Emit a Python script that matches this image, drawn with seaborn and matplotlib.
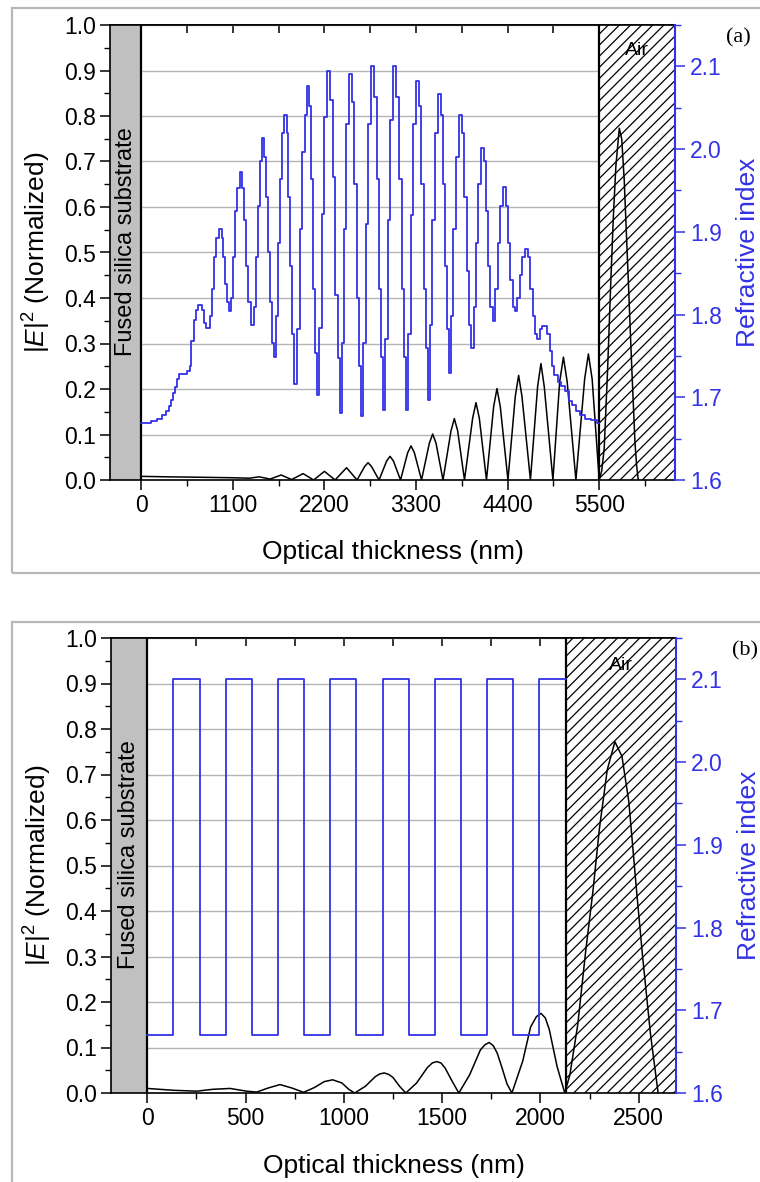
import matplotlib
matplotlib.use("Agg")
import matplotlib.pyplot as plt
import seaborn as sns
from matplotlib.patches import Rectangle
from matplotlib.ticker import MultipleLocator, NullFormatter, FormatStrFormatter

# ---------------- data ----------------
# Panel (a): apodized quantized rugate profile (optical thickness nm, refractive index)
a_prof_x = [0, 120, 192, 252, 300, 336, 360, 384, 408, 432, 456, 552, 582, 600, 630, 660, 684, 726, 756, 780,
            828, 852, 876, 900, 930, 966, 984, 1008, 1032, 1056,
            1080, 1104, 1128, 1152, 1182, 1212, 1236, 1260, 1284, 1314,
            1356, 1380, 1404, 1428, 1446, 1476, 1500, 1524, 1548, 1572,
            1596, 1620, 1644, 1668, 1692, 1710, 1746, 1764, 1788, 1812,
            1836, 1872, 1902, 1932, 1962, 1986, 2010, 2040, 2064, 2088,
            2112, 2136, 2166, 2196, 2232, 2268, 2298, 2328, 2358, 2382,
            2406, 2430, 2460, 2496, 2526, 2556, 2586, 2616, 2640,
            2664, 2694, 2724, 2760, 2796, 2826, 2856, 2880, 2904,
            2928, 2958, 2988, 3024, 3060, 3096, 3126, 3156, 3180,
            3204, 3234, 3264, 3294, 3330, 3360, 3390, 3420, 3444,
            3468, 3492, 3522, 3558, 3594, 3618, 3642, 3666, 3690,
            3720, 3750, 3780, 3816, 3852, 3882, 3912, 3942, 3966,
            3996, 4020, 4050, 4086, 4122, 4146, 4170, 4194, 4224,
            4254, 4284, 4314, 4344, 4380, 4404, 4434, 4464, 4488,
            4518, 4548, 4578, 4608, 4644, 4674, 4704, 4728, 4752,
            4788, 4818, 4878, 4908, 4932, 4956, 5004, 5040, 5088, 5136, 5172, 5220, 5268, 5328, 5400, 5472, 5500]
a_prof_n = [1.669, 1.671, 1.674, 1.678, 1.684, 1.689, 1.697, 1.705, 1.713, 1.722, 1.728, 1.732, 1.738, 1.768, 1.793, 1.806, 1.812, 1.806, 1.790, 1.784,
            1.798, 1.831, 1.870, 1.892, 1.903, 1.892, 1.870, 1.837, 1.815, 1.804,
            1.820, 1.870, 1.925, 1.953, 1.972, 1.953, 1.914, 1.859, 1.815, 1.787,
            1.809, 1.870, 1.931, 1.986, 2.013, 1.991, 1.942, 1.876, 1.815, 1.765,
            1.749, 1.798, 1.887, 1.964, 2.019, 2.041, 2.019, 1.942, 1.859, 1.776,
            1.716, 1.782, 1.903, 1.997, 2.041, 2.076, 2.052, 1.964, 1.831, 1.754,
            1.703, 1.784, 1.922, 2.039, 2.094, 2.059, 1.966, 1.824, 1.748, 1.681,
            1.765, 1.903, 2.030, 2.091, 2.057, 1.958, 1.820, 1.738, 1.677,
            1.765, 1.909, 2.030, 2.100, 2.063, 1.964, 1.831, 1.749, 1.685,
            1.771, 1.914, 2.035, 2.100, 2.063, 1.964, 1.831, 1.749, 1.685,
            1.776, 1.920, 2.030, 2.082, 2.052, 1.958, 1.831, 1.760, 1.697,
            1.787, 1.914, 2.019, 2.067, 2.041, 1.958, 1.859, 1.782, 1.729,
            1.798, 1.903, 1.991, 2.041, 2.019, 1.942, 1.853, 1.787, 1.760,
            1.809, 1.887, 1.958, 2.001, 1.986, 1.925, 1.859, 1.809, 1.792,
            1.831, 1.887, 1.931, 1.954, 1.931, 1.887, 1.842, 1.809, 1.804,
            1.820, 1.848, 1.870, 1.879, 1.870, 1.831, 1.798, 1.776, 1.770,
            1.782, 1.786, 1.776, 1.756, 1.738, 1.727, 1.718, 1.714, 1.707, 1.696, 1.691, 1.684, 1.679, 1.674, 1.672, 1.669, 1.669]

# Panel (a): normalized |E|^2
a_e_x = [0, 300, 720, 1080, 1300, 1416, 1548, 1680, 1806, 1944, 2070, 2200, 2328, 2466, 2592,
         2684, 2724, 2764, 2856, 2948, 2988, 3028, 3114, 3200, 3240, 3280, 3366,
         3460, 3500, 3540, 3624, 3720, 3760, 3800, 3882, 3980, 4020, 4060, 4146,
         4232, 4272, 4312, 4404, 4492, 4532, 4572, 4674, 4760, 4800, 4840, 4944,
         5025, 5070, 5115, 5220, 5325, 5370, 5415, 5500,
         5530, 5560, 5600, 5640, 5670, 5700, 5741, 5770, 5800, 5849, 5890, 5930, 5950, 5969]
a_e_v = [0.008, 0.007, 0.006, 0.005, 0.004, 0.007, 0.002, 0.011, 0.001, 0.014, 0.0, 0.019, 0.0, 0.027, 0.0,
         0.030, 0.038, 0.030, 0.0, 0.042, 0.052, 0.042, 0.0, 0.060, 0.075, 0.060, 0.0,
         0.081, 0.101, 0.081, 0.0, 0.108, 0.135, 0.108, 0.0, 0.136, 0.170, 0.136, 0.0,
         0.161, 0.201, 0.161, 0.0, 0.184, 0.230, 0.184, 0.0, 0.205, 0.256, 0.205, 0.0,
         0.216, 0.270, 0.216, 0.0, 0.222, 0.277, 0.222, 0.0,
         0.02, 0.07, 0.24, 0.44, 0.58, 0.69, 0.773, 0.75, 0.66, 0.44, 0.25, 0.08, 0.03, 0.0]

# Panel (b): quarter-wave stack (layer start positions, refractive index)
b_prof_x = [0, 133, 266, 399, 532, 665, 798, 931, 1064, 1197, 1330, 1463, 1596, 1729, 1862, 1995, 2128]
b_prof_n = [1.67, 2.10, 1.67, 2.10, 1.67, 2.10, 1.67, 2.10, 1.67, 2.10, 1.67, 2.10, 1.67, 2.10, 1.67, 2.10, 2.10]

# Panel (b): normalized |E|^2
b_e_x = [0, 131, 251, 330, 421, 505, 556, 615, 675, 735, 795, 850, 900, 943, 990, 1025, 1055, 1110, 1160, 1183,
         1205, 1228, 1250, 1285, 1315, 1370, 1425, 1450, 1472, 1494, 1515, 1552, 1585, 1640, 1695,
         1718, 1739, 1760, 1780, 1805, 1830, 1855, 1910, 1950, 1980, 2003, 2025, 2045, 2085, 2124,
         2150, 2190, 2230, 2268, 2300, 2340, 2379, 2415, 2450, 2489, 2520, 2560, 2599]
b_e_v = [0.010, 0.006, 0.004, 0.008, 0.010, 0.004, 0.002, 0.011, 0.0185, 0.011, 0.0015, 0.012, 0.025, 0.029, 0.022, 0.008, 0.0, 0.015, 0.036, 0.042,
         0.044, 0.041, 0.034, 0.014, 0.0, 0.022, 0.056, 0.066, 0.069, 0.066, 0.055, 0.025, 0.0, 0.040, 0.095,
         0.106, 0.111, 0.104, 0.088, 0.055, 0.020, 0.0, 0.070, 0.145, 0.168, 0.175, 0.165, 0.140, 0.058, 0.0,
         0.04, 0.15, 0.31, 0.446, 0.58, 0.71, 0.772, 0.74, 0.64, 0.446, 0.30, 0.13, 0.0]

x_label = "Optical thickness (nm)"
y_label = r"$|\mathit{E}|^2$ (Normalized)"
y2_label = "Refractive index"
substrate_label = "Fused silica substrate"
air_label = "Air"

# ---------------- style ----------------
sns.set_theme(style="ticks")
plt.rcParams['font.family'] = ['Liberation Sans', 'DejaVu Sans']
plt.rcParams['mathtext.fontset'] = 'custom'
plt.rcParams['mathtext.rm'] = 'Liberation Sans'
plt.rcParams['mathtext.it'] = 'Liberation Sans:italic'
plt.rcParams['hatch.linewidth'] = 0.9

BLUE = '#3232e6'
W, H = 760, 1182
fig = plt.figure(figsize=(W / 100, H / 100), dpi=100)


def frac_rect(l, t, r, b):
    return [l / W, 1 - b / H, (r - l) / W, (b - t) / H]


def panel(rect, prof_x, prof_n, e_x, e_v, xlim, air_x, xmaj, xmin, air_y, tag, tag_xy):
    ax = fig.add_axes(rect)
    ax2 = ax.twinx()
    ax.set_xlim(*xlim)
    ax.set_ylim(0, 1)
    ax2.set_ylim(1.6, 2.15)

    ax.grid(False)
    ax.yaxis.grid(True, color='#b5b5b5', lw=1.0)
    ax.set_axisbelow(True)

    ax.axvspan(xlim[0], 0, facecolor='#c0c0c0', edgecolor='none', zorder=1)
    ax.axvspan(air_x, xlim[1], facecolor='white', edgecolor='black', hatch='///', lw=0, zorder=1)
    ax.axvline(0, color='black', lw=1.6, zorder=3)
    ax.axvline(air_x, color='black', lw=1.6, zorder=3)

    sns.lineplot(x=e_x, y=e_v, ax=ax, color='black', lw=1.1, estimator=None, sort=False, zorder=4)
    sns.lineplot(x=prof_x, y=prof_n, ax=ax2, color=BLUE, lw=1.3, drawstyle='steps-post',
                 estimator=None, sort=False)

    # ticks
    ax.xaxis.set_major_locator(MultipleLocator(xmaj))
    ax.xaxis.set_minor_locator(MultipleLocator(xmin))
    ax.yaxis.set_major_locator(MultipleLocator(0.1))
    ax.yaxis.set_minor_locator(MultipleLocator(0.05))
    ax.yaxis.set_major_formatter(FormatStrFormatter('%.1f'))
    ax.tick_params(axis='both', which='major', direction='out', length=7, width=1.1,
                   labelsize=16.5, colors='black', pad=3)
    ax.tick_params(axis='both', which='minor', direction='out', length=4, width=1.0, colors='black')
    ax.tick_params(axis='x', which='both', top=False, bottom=True)
    ax.tick_params(axis='y', which='both', left=True, right=False)

    ax2.yaxis.set_major_locator(MultipleLocator(0.1))
    ax2.yaxis.set_minor_locator(MultipleLocator(0.05))
    ax2.yaxis.set_major_formatter(FormatStrFormatter('%.1f'))
    ax2.tick_params(axis='y', which='major', direction='out', length=7, width=1.1,
                    labelsize=16.5, colors=BLUE, pad=4)
    ax2.tick_params(axis='y', which='minor', direction='out', length=4, width=1.0, colors=BLUE)

    sec = ax.secondary_xaxis('top')
    sec.xaxis.set_major_locator(MultipleLocator(xmaj))
    sec.xaxis.set_minor_locator(MultipleLocator(xmin))
    sec.xaxis.set_major_formatter(NullFormatter())
    sec.tick_params(axis='x', which='both', direction='in', length=6, width=1.1, colors='black')
    sec.spines['top'].set_linewidth(1.2)
    sec.spines['top'].set_color('black')

    for s in ['left', 'bottom', 'top']:
        ax.spines[s].set_color('black')
        ax.spines[s].set_linewidth(1.2)
    ax.spines['right'].set_visible(False)
    for s in ['left', 'bottom', 'top']:
        ax2.spines[s].set_visible(False)
    ax2.spines['right'].set_color(BLUE)
    ax2.spines['right'].set_linewidth(1.5)

    ax.set_xlabel(x_label, fontsize=19, labelpad=17, color='black')
    ax.set_ylabel(y_label, fontsize=19, labelpad=8, color='black')
    ax2.set_ylabel(y2_label, fontsize=19, labelpad=10, color=BLUE)

    ax.text(xlim[0] / 2, 0.525, substrate_label, rotation=90, ha='center', va='center',
            fontsize=17, color='black', zorder=5)
    ax.text((air_x + xlim[1]) / 2, air_y, air_label, ha='center', va='center', fontsize=14,
            color='black', zorder=5)
    fig.text(tag_xy[0] / W, 1 - tag_xy[1] / H, tag, family=['Liberation Serif', 'DejaVu Serif'],
             fontsize=16, ha='left', va='center', color='black')
    return ax, ax2


# panel frames
fig.add_artist(Rectangle((12 / W, 1 - 573 / H), (W + 20 - 12) / W, (573 - 8) / H,
                         transform=fig.transFigure, fill=False, edgecolor='#b8b8b8', lw=1.6))
fig.add_artist(Rectangle((12 / W, -0.05), (W + 20 - 12) / W, 1 - 622 / H + 0.05,
                         transform=fig.transFigure, fill=False, edgecolor='#b8b8b8', lw=1.6))

panel(frac_rect(110, 25, 675, 480), a_prof_x, a_prof_n, a_e_x, a_e_v,
      (-375, 6410), 5500, 1100, 550, 0.945, '(a)', (726, 38))
panel(frac_rect(111, 638, 676, 1093), b_prof_x, b_prof_n, b_e_x, b_e_v,
      (-185, 2690), 2128, 500, 250, 0.94, '(b)', (732, 651))

fig.savefig('out.png', dpi=100)
